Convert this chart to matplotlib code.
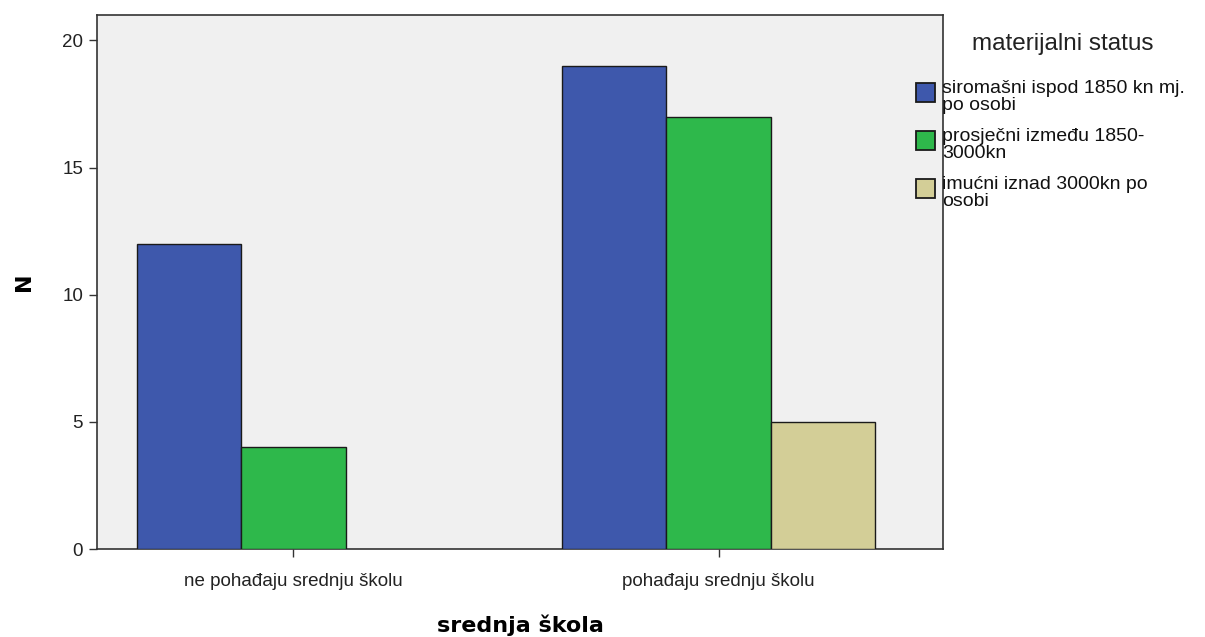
import matplotlib
matplotlib.use("Agg")
import matplotlib.pyplot as plt
from matplotlib.patches import Rectangle
import numpy as np

plt.rcParams['font.family'] = ['Liberation Sans', 'DejaVu Sans']

categories = ["ne pohađaju srednju školu", "pohađaju srednju školu"]
series_names = [["siromašni ispod 1850 kn mj.", "po osobi"],
                ["prosječni između 1850-", "3000kn"],
                ["imućni iznad 3000kn po", "osobi"]]
siromasni = [12, 19]
prosjecni = [4, 17]
imucni = [None, 5]
colors = ["#3E58AC", "#2EB84B", "#D3CE97"]
legend_title = "materijalni status"

W, H = 1205, 637
fig = plt.figure(figsize=(W / 100, H / 100), dpi=100)
ax = fig.add_axes([97 / W, 1 - 549 / H, (943 - 97) / W, (549 - 15) / H])
ax.set_facecolor("#F0F0F0")

x = np.arange(len(categories))
w = 0.246
for i, (vals, c) in enumerate(zip([siromasni, prosjecni, imucni], colors)):
    xs = [xi + (i - 1) * w for xi, v in zip(x, vals) if v is not None]
    vs = [v for v in vals if v is not None]
    ax.bar(xs, vs, width=w, color=c, edgecolor="#1a1a1a", linewidth=1.0, zorder=3)

ax.set_xlim(-0.462, 1.528)
ax.set_ylim(0, 21.0)
ax.set_yticks([0, 5, 10, 15, 20])
ax.set_xticks(x)
ax.set_xticklabels(categories, fontsize=13.5)
ax.tick_params(axis='both', length=6, width=1, color="#333333", labelcolor="#222222")
ax.tick_params(axis='y', labelsize=13.5, pad=4)
ax.tick_params(axis='x', pad=11)
for s in ax.spines.values():
    s.set_color("#333333")
    s.set_linewidth(1.2)

ax.set_xlabel("srednja škola", fontsize=16, fontweight='bold', family=['DejaVu Sans'], labelpad=18)
ax.set_ylabel("N", fontsize=16, fontweight='bold', family=['DejaVu Sans'], labelpad=20)

# legend (drawn in figure pixel coordinates)
fig.text(1063 / W, 1 - 44 / H, legend_title, ha='center', va='center',
         fontsize=17.5, color="#222222")
patch_centers = [92, 140, 188]
for lines, c, yc in zip(series_names, colors, patch_centers):
    fig.patches.append(Rectangle((916 / W, 1 - (yc + 9.5) / H), 19 / W, 19 / H,
                                 transform=fig.transFigure, facecolor=c,
                                 edgecolor="#1a1a1a", linewidth=1.3))
    for k, line in enumerate(lines):
        fig.text(942 / W, 1 - (yc + 1 + 16.5 * k) / H, line, ha='left', va='baseline',
                 fontsize=14, color="#111111")

fig.savefig("out.png", dpi=100)
